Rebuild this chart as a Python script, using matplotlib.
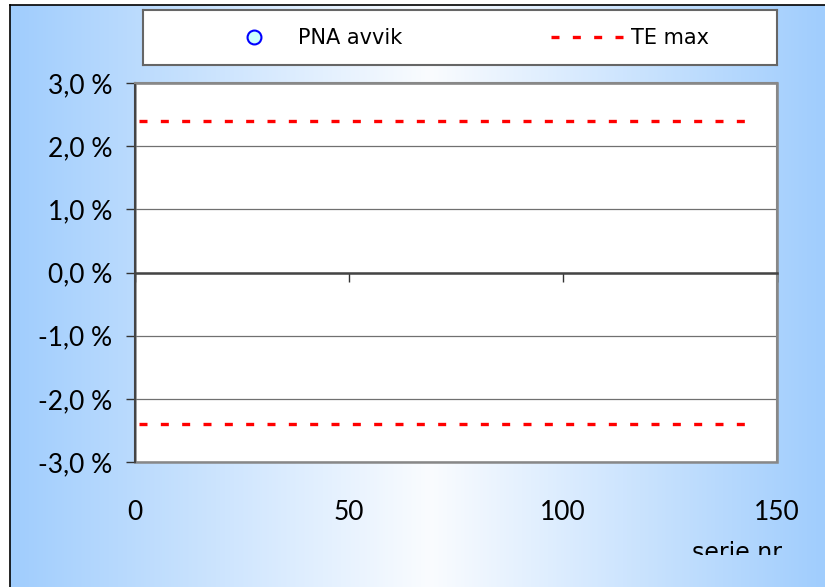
import numpy as np
import matplotlib
matplotlib.use("Agg")
import matplotlib.pyplot as plt
from matplotlib.patches import Rectangle
from matplotlib.lines import Line2D
from matplotlib.transforms import Bbox

# ---- data ----
x_ticks = [0, 50, 100, 150]
y_ticks = [-3.0, -2.0, -1.0, 0.0, 1.0, 2.0, 3.0]
y_tick_labels = ["-3,0 %", "-2,0 %", "-1,0 %", "0,0 %", "1,0 %", "2,0 %", "3,0 %"]
pna_x = []          # no PNA deviations plotted
pna_y = []
te_x = [1, 143]
te_upper = [2.4, 2.4]
te_lower = [-2.4, -2.4]
legend_labels = ["PNA avvik", "TE max"]
x_label = "serie nr"

W, H = 825, 587
fig = plt.figure(figsize=(W / 100, H / 100), dpi=100)
fig.patch.set_facecolor("white")

# background gradient frame
bg = fig.add_axes([10 / W, 0, 1 - 10 / W, (H - 5) / H], zorder=-10)
n = 600
xs = np.linspace(10, W, n)
xc = 430.0
t = np.where(xs < xc, (xc - xs) / (xc - 10), (xs - xc) / (W - xc))
t = np.clip(t, 0, 1)
edge = np.array([160, 205, 253]) / 255
center = np.array([250, 252, 255]) / 255
cols = center[None, :] * (1 - t[:, None]) + edge[None, :] * t[:, None]
bg.imshow(cols[None, :, :], aspect="auto", extent=[0, 1, 0, 1])
bg.set_xlim(0, 1)
bg.set_ylim(0, 1)
bg.set_xticks([])
bg.set_yticks([])
for s in ["right", "bottom"]:
    bg.spines[s].set_visible(False)
for s in ["left", "top"]:
    bg.spines[s].set_color("black")
    bg.spines[s].set_linewidth(1.2)

# main plot axes
L, R, T, B = 135, 777, 83, 462
ax = fig.add_axes([L / W, 1 - B / H, (R - L) / W, (B - T) / H])
ax.set_facecolor("white")
ax.set_xlim(0, 150)
ax.set_ylim(-3, 3)

ax.plot(pna_x, pna_y, linestyle="none", marker="o", markersize=10,
        markerfacecolor="#ccffff", markeredgecolor="blue", markeredgewidth=1.5)
for yv in (te_upper, te_lower):
    ax.plot(te_x, yv, color="red", linewidth=2.4, dashes=(2.4, 4.0),
            solid_capstyle="butt", dash_capstyle="butt")

ax.set_yticks(y_ticks)
ax.set_yticklabels(y_tick_labels, fontfamily="Lato", fontsize=19)
ax.yaxis.grid(True, color="#707070", linewidth=0.9)
ax.set_axisbelow(True)
ax.tick_params(axis="y", direction="out", length=6.5, width=1, pad=10, color="#333333")

ax.set_xticks(x_ticks)
ax.tick_params(axis="x", direction="out", length=6.5, width=1, labelbottom=False,
               color="#333333")
ax.spines["bottom"].set_position(("data", 0))
ax.spines["bottom"].set_color("#444444")
ax.spines["bottom"].set_linewidth(1.8)
ax.spines["left"].set_color("#444444")
ax.spines["left"].set_linewidth(1.5)
for s in ["top", "right"]:
    ax.spines[s].set_color("#888888")
    ax.spines[s].set_linewidth(1.5)
ax.add_patch(Rectangle((0, 0), 1, 1, transform=ax.transAxes, fill=False,
                       edgecolor="#888888", linewidth=1.8, zorder=0.5, clip_on=False))

sec = ax.secondary_xaxis("bottom")
sec.set_xticks(x_ticks)
sec.set_xticklabels([str(v) for v in x_ticks], fontfamily="Lato", fontsize=19)
sec.tick_params(length=0, pad=27)
for s in sec.spines.values():
    s.set_visible(False)

# clipped axis title
txt = fig.text(737 / W, 1 - 541 / H, x_label, ha="center", va="top",
               fontfamily="DejaVu Sans", fontsize=17)
txt.set_clip_box(Bbox.from_extents(0, H - 555, W, H))
txt.set_clip_on(True)

# legend box
lg = fig.add_axes([143 / W, 1 - 65 / H, (777 - 143) / W, 55 / H])
lg.set_xlim(143, 777)
lg.set_ylim(65, 10)
lg.set_facecolor("white")
lg.set_xticks([])
lg.set_yticks([])
for s in lg.spines.values():
    s.set_color("#666666")
    s.set_linewidth(1.5)
lg.add_line(Line2D([254], [37], linestyle="none", marker="o", markersize=10,
                   markerfacecolor="#ccffff", markeredgecolor="blue", markeredgewidth=1.5))
lg.add_line(Line2D([551, 623], [37, 37], color="red", linewidth=2.4,
                   dashes=(2.4, 4.0), dash_capstyle="butt"))
lg.text(298, 38, legend_labels[0], va="center", ha="left", fontfamily="DejaVu Sans", fontsize=15)
lg.text(631, 38, legend_labels[1], va="center", ha="left", fontfamily="DejaVu Sans", fontsize=15)

fig.savefig("out.png", dpi=100)
